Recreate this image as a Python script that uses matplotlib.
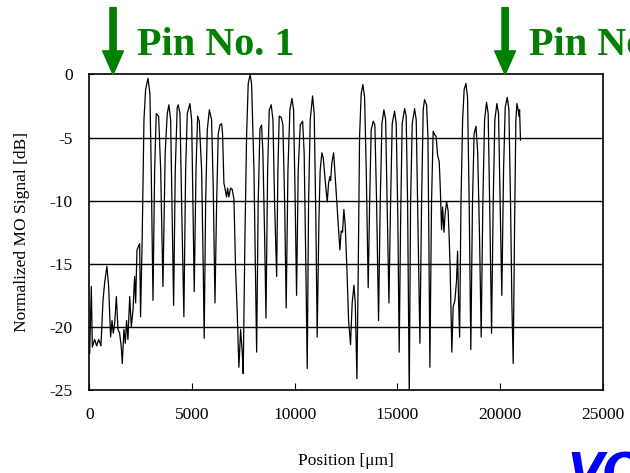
import matplotlib
matplotlib.use('Agg')
import matplotlib.pyplot as plt

# position [um] and normalized MO signal [dB]
pos = [10, 90, 140, 250, 350, 450, 560, 660, 740, 850, 935, 1030, 1100, 1160, 1230,
       1310, 1390, 1470, 1550, 1600, 1680, 1745, 1810, 1875, 1960, 2040, 2120, 2200,
       2250, 2315, 2395, 2445, 2490, 2570, 2655, 2735, 2850, 2945, 3010, 3095, 3175,
       3255, 3370, 3470, 3580, 3690, 3790, 3870, 3955, 4020, 4100, 4180, 4275, 4325,
       4410, 4490, 4600, 4685, 4765, 4895, 4980, 5055, 5105, 5190, 5270, 5350, 5465,
       5545, 5590, 5660, 5740, 5840, 5950, 6030, 6115, 6195, 6275, 6355, 6440, 6485,
       6550, 6600, 6680, 6730, 6790, 6875, 6955, 7040, 7120, 7200, 7280, 7365, 7445,
       7490, 7575, 7655, 7735, 7830, 7900, 8015, 8145, 8220, 8305, 8385, 8450, 8535,
       8600, 8680, 8760, 8855, 8940, 9020, 9120, 9180, 9245, 9345, 9425, 9510, 9585,
       9670, 9765, 9865, 9945, 10025, 10090, 10170, 10270, 10385, 10460, 10545, 10610,
       10675, 10755, 10870, 10950, 11030, 11095, 11180, 11240, 11325, 11390, 11485,
       11585, 11650, 11715, 11750, 11810, 11895, 11945, 12055, 12140, 12200, 12265,
       12330, 12395, 12460, 12545, 12625, 12720, 12800, 12885, 12950, 13030, 13095,
       13160, 13240, 13320, 13405, 13485, 13580, 13650, 13725, 13825, 13905, 13990,
       14085, 14165, 14250, 14345, 14430, 14505, 14590, 14670, 14750, 14865, 14945,
       15025, 15090, 15160, 15235, 15355, 15430, 15500, 15580, 15645, 15725, 15840,
       15920, 16000, 16100, 16180, 16260, 16325, 16425, 16490, 16535, 16585, 16665,
       16745, 16830, 16890, 16960, 17040, 17090, 17155, 17205, 17270, 17330, 17400,
       17475, 17525, 17575, 17655, 17720, 17805, 17885, 17935, 17985, 18035, 18100,
       18180, 18255, 18340, 18420, 18500, 18580, 18660, 18740, 18830, 18915, 19005,
       19085, 19165, 19250, 19345, 19425, 19510, 19590, 19670, 19750, 19850, 19930,
       20010, 20090, 20175, 20255, 20355, 20435, 20515, 20580, 20645, 20715, 20775,
       20825, 20885, 20920, 20955, 21000]
sig = [-22.1, -16.8, -21.6, -21.0, -21.5, -21.0, -21.5, -17.9, -16.5, -15.2, -16.8,
       -20.8, -19.5, -20.5, -19.7, -17.6, -20.2, -20.5, -21.6, -22.9, -20.2, -21.3,
       -19.5, -21.0, -17.6, -20.0, -18.7, -16.0, -18.1, -13.9, -13.6, -13.4, -19.2,
       -12.9, -3.6, -1.2, -0.3, -1.5, -7.6, -17.9, -7.6, -3.1, -3.3, -7.6, -16.8,
       -6.2, -3.1, -2.4, -3.6, -10.2, -18.3, -7.6, -2.6, -2.4, -3.1, -10.2, -19.2,
       -7.6, -3.1, -2.3, -3.6, -11.5, -17.2, -7.6, -3.3, -3.7, -7.6, -15.5, -20.9,
       -10.2, -4.4, -2.8, -3.6, -8.9, -18.1, -10.2, -4.7, -4.0, -3.9, -4.7, -8.6,
       -9.0, -9.7, -9.0, -9.7, -9.0, -9.1, -9.9, -15.5, -18.9, -23.2, -20.2, -22.1,
       -23.7, -12.9, -4.9, -0.7, 0.0, -0.8, -7.6, -22.0, -10.2, -4.3, -4.0, -6.2,
       -12.9, -19.3, -7.6, -2.8, -2.4, -3.6, -10.2, -16.0, -7.6, -3.3, -3.4, -4.0,
       -10.2, -18.5, -7.6, -2.8, -1.9, -2.8, -10.2, -17.5, -7.6, -4.0, -3.7, -6.2,
       -15.5, -23.3, -10.2, -3.6, -1.7, -3.1, -11.5, -20.8, -11.5, -7.6, -6.2, -6.6,
       -8.4, -10.1, -8.6, -8.1, -8.4, -7.0, -6.2, -7.4, -10.2, -12.3, -13.9, -12.4,
       -12.5, -10.7, -11.9, -15.5, -19.5, -21.4, -18.1, -16.7, -18.1, -24.1, -15.5,
       -4.9, -1.5, -0.8, -1.8, -7.6, -16.9, -10.2, -4.4, -3.7, -4.0, -10.2, -19.5,
       -10.2, -3.9, -2.8, -3.6, -10.2, -18.1, -10.2, -3.9, -2.9, -3.9, -11.5, -22.0,
       -11.5, -3.9, -2.7, -3.3, -10.2, -25.6, -10.2, -3.9, -2.7, -3.6, -11.5, -21.3,
       -10.2, -2.8, -2.0, -2.4, -4.9, -12.9, -23.2, -10.2, -4.5, -4.8, -4.9, -6.4,
       -6.9, -8.9, -12.3, -10.5, -12.5, -11.0, -10.1, -10.8, -12.9, -15.5, -22.0,
       -18.4, -17.9, -16.3, -14.0, -18.1, -20.8, -10.2, -3.6, -1.2, -0.7, -1.8,
       -10.2, -21.8, -10.2, -4.7, -4.1, -6.2, -12.9, -20.8, -10.2, -3.6, -2.2, -3.1,
       -11.5, -20.5, -10.2, -3.6, -2.3, -3.1, -10.2, -17.5, -7.6, -2.6, -1.8, -2.8,
       -10.2, -18.1, -22.9, -11.5, -3.6, -2.3, -2.8, -3.3, -2.8, -5.2]

pin_pos = [1150, 20250]
pin_labels = ['Pin No. 1', 'Pin No. 2']
xticks = [0, 5000, 10000, 15000, 20000, 25000]
yticks = [0, -5, -10, -15, -20, -25]

plt.rcParams['font.family'] = ['Liberation Serif', 'DejaVu Serif']

fig = plt.figure(figsize=(6.3, 4.73), dpi=100)
ax = fig.add_axes([0.142, 0.1755, 0.8145, 0.667])

for y in yticks[1:-1]:
    ax.axhline(y, color='black', lw=1.0, zorder=1)
ax.plot(pos, sig, color='black', lw=0.9, zorder=2)

ax.set_xlim(0, 25000)
ax.set_ylim(-25, 0)
ax.set_xticks(xticks)
ax.set_yticks(yticks)
ax.set_yticklabels([str(v) for v in yticks])
ax.tick_params(axis='x', direction='in', length=5, pad=12, labelsize=12.5)
ax.tick_params(axis='y', direction='in', length=3, pad=12, labelsize=12.5)
for s in ax.spines.values():
    s.set_linewidth(1.2)

ax.set_xlabel('Position [\u03bcm]', fontsize=12.5, labelpad=22)
ax.set_ylabel('Normalized MO Signal [dB]', fontsize=12.5, labelpad=14)

# green arrows and pin labels above the plot
for p, lab in zip(pin_pos, pin_labels):
    ax.annotate('', xy=(p, 0), xytext=(p, 5.3), annotation_clip=False,
                arrowprops=dict(facecolor='green', edgecolor='green', width=4.5,
                                headwidth=15, headlength=17, shrink=0))
    ax.text(p + 1150, 1.55, lab, color='green', fontsize=29, fontweight='bold',
            ha='left', va='baseline', clip_on=False)

fig.text(0.9, -0.05, 'VO', color='blue', fontsize=34, fontweight='bold',
         fontstyle='italic', family='DejaVu Sans', ha='left', va='bottom')

fig.savefig('out.png', dpi=100)
